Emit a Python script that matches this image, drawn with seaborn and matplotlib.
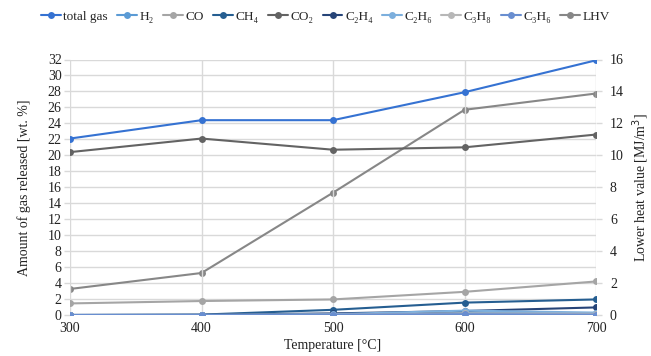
import numpy as np
import pandas as pd
import matplotlib
matplotlib.use("Agg")
import matplotlib.pyplot as plt
import seaborn as sns
from matplotlib.lines import Line2D

temps = [300, 400, 500, 600, 700]
total_gas = [22.1, 24.4, 24.4, 27.9, 31.9]
h2 = [0.0, 0.0, 0.1, 0.3, 0.2]
co = [1.45, 1.75, 1.95, 2.9, 4.2]
ch4 = [0.0, 0.05, 0.65, 1.55, 1.95]
co2 = [20.4, 22.1, 20.7, 21.0, 22.6]
c2h4 = [0.0, 0.02, 0.2, 0.5, 0.95]
c2h6 = [0.0, 0.0, 0.1, 0.55, 0.3]
c3h8 = [0.0, 0.0, 0.05, 0.2, 0.15]
c3h6 = [0.0, 0.0, 0.05, 0.1, 0.05]
lhv = [1.63, 2.63, 7.66, 12.85, 13.87]

labels = ["total gas", "H\u2082", "CO", "CH\u2084", "CO\u2082", "C\u2082H\u2084",
          "C\u2082H\u2086", "C\u2083H\u2088", "C\u2083H\u2086", "LHV"]
series = [total_gas, h2, co, ch4, co2, c2h4, c2h6, c3h8, c3h6]
colors = ["#3572d2", "#5b9bd5", "#a5a5a5", "#255e91", "#636363", "#264478",
          "#7cafdd", "#b7b7b7", "#698ed0", "#878787"]

sns.set_theme(style="white")
plt.rcParams['font.family'] = ['Liberation Serif', 'DejaVu Serif']
plt.rcParams['font.size'] = 10

fig = plt.figure(figsize=(6.51, 3.56), dpi=100)
ax = fig.add_axes([70/651, 1-315/356, (596-70)/651, (315-59.5)/356])
ax2 = ax.twinx()

ax.set_zorder(2)
ax.patch.set_visible(False)

for vals, lab, col in zip(series, labels[:-1], colors[:-1]):
    df = pd.DataFrame({"T": temps, "v": vals})
    sns.lineplot(data=df, x="T", y="v", ax=ax, color=col, marker="o",
                 markersize=5, markeredgewidth=0, linewidth=1.5, legend=False)

df = pd.DataFrame({"T": temps, "v": lhv})
sns.lineplot(data=df, x="T", y="v", ax=ax2, color=colors[-1], marker="o",
             markersize=5, markeredgewidth=0, linewidth=1.5, legend=False)

ax.set_xlim(300, 700)
ax.set_ylim(0, 32)
ax2.set_ylim(0, 16)
ax.set_xticks(temps)
ax.set_yticks(np.arange(0, 33, 2))
ax2.set_yticks(np.arange(0, 17, 2))

ax2.grid(False)
ax2.set_yticks(np.arange(0, 17, 1), minor=True)
ax2.yaxis.grid(True, which="minor", color="#d9d9d9", linewidth=1)
ax2.yaxis.grid(True, which="major", color="#d9d9d9", linewidth=1)
ax2.tick_params(axis="y", which="minor", length=0)
ax.xaxis.grid(True, color="#d9d9d9", linewidth=1)
ax.yaxis.grid(False)

for a in (ax, ax2):
    for s in a.spines.values():
        s.set_visible(False)
ax.tick_params(axis="both", colors="#d9d9d9", labelcolor="#222222", length=4, width=1, labelsize=10, pad=2)
ax2.tick_params(axis="y", colors="#d9d9d9", labelcolor="#222222", length=4, width=1, labelsize=10, pad=6)
ax.tick_params(axis="x", length=0, pad=5)

ax.set_xlabel("Temperature [°C]", fontsize=10, color="#222222", labelpad=3)
ax.set_ylabel("Amount of gas released [wt. %]", fontsize=10, color="#222222", labelpad=12)
ax2.set_ylabel("Lower heat value [MJ/m$^3$]", fontsize=10, color="#222222", labelpad=5)

handles = [Line2D([0], [0], color=c, marker="o", markersize=5, markeredgewidth=0, linewidth=1.5)
           for c in colors]
fig.legend(handles, labels, loc="center", bbox_to_anchor=(0.5, 1-17/356), ncol=10,
           frameon=False, fontsize=9.5, handlelength=1.5, handletextpad=0.2, columnspacing=0.7,
           borderaxespad=0, borderpad=0)

fig.savefig("out.png", dpi=100)
